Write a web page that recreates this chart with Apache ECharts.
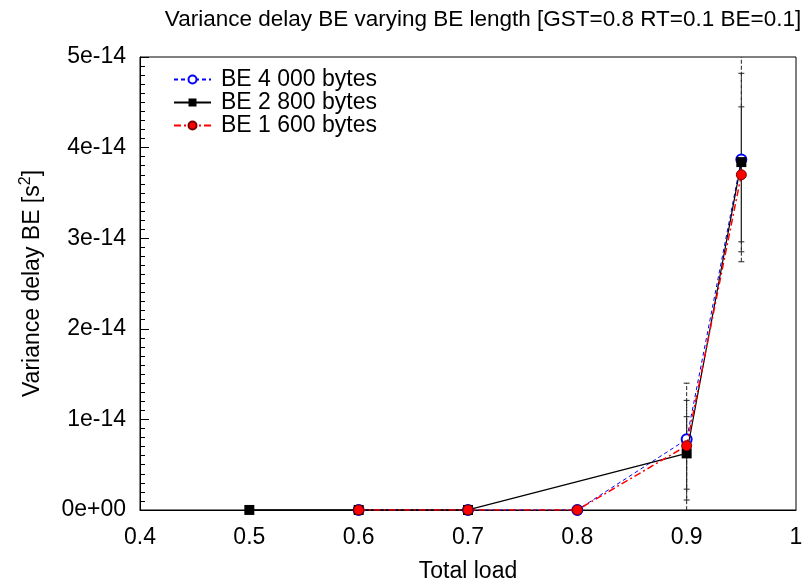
<!DOCTYPE html>
<html>
<head>
<meta charset="utf-8">
<script src="https://cdn.jsdelivr.net/npm/echarts@6/dist/echarts.min.js"></script>
<style>html,body{margin:0;padding:0;background:#fff}#c{width:811px;height:588px}</style>
</head>
<body>
<div id="c"></div>
<script>
// ---- data ----
const titleText = 'Variance delay BE varying BE length [GST=0.8 RT=0.1 BE=0.1]';
const seriesNames = ['BE 4 000 bytes', 'BE 2 800 bytes', 'BE 1 600 bytes'];

const load4000 = [0.6, 0.7, 0.8, 0.9, 0.95];
const var4000  = [0.0005e-14, 0.0005e-14, 0.0005e-14, 0.78e-14, 3.87e-14];
const low4000  = [0, 0, 0, 0.23e-14, 2.85e-14];
const high4000 = [0.04e-14, 0.04e-14, 0.04e-14, 1.21e-14, 4.82e-14];

const load2800 = [0.5, 0.6, 0.7, 0.9, 0.95];
const var2800  = [0.0005e-14, 0.0005e-14, 0.0005e-14, 0.625e-14, 3.84e-14];
const low2800  = [0, 0, 0, -0.2e-14, 2.74e-14];
const high2800 = [0.04e-14, 0.04e-14, 0.04e-14, 1.40e-14, 5.3e-14];

const load1600 = [0.6, 0.7, 0.8, 0.9, 0.95];
const var1600  = [0.0005e-14, 0.0005e-14, 0.0005e-14, 0.71e-14, 3.70e-14];
const low1600  = [0, 0, 0, 0.11e-14, 2.96e-14];
const high1600 = [0.04e-14, 0.04e-14, 0.04e-14, 1.03e-14, 4.45e-14];

const xTicks = [0.4, 0.5, 0.6, 0.7, 0.8, 0.9, 1];
const yTickLabels = ['0e+00', '1e-14', '2e-14', '3e-14', '4e-14', '5e-14'];

// ---- build ----
const FONT = '"Liberation Sans", Arial, sans-serif';
const pairs = (xs, ys) => xs.map((x, i) => [x, ys[i]]);
const errs = (xs, lo, hi) => xs.map((x, i) => [x, lo[i], hi[i]]);

function errorSeries(data) {
  return {
    type: 'custom',
    clip: true,
    silent: true,
    z: 1,
    data: data,
    renderItem: function (params, api) {
      const x = api.value(0);
      const lo = api.coord([x, api.value(1)]);
      const hi = api.coord([x, api.value(2)]);
      const cap = 3;
      const st = { stroke: '#222', lineWidth: 1, lineDash: [4, 2] };
      return {
        type: 'group',
        children: [
          { type: 'line', shape: { x1: lo[0], y1: lo[1], x2: hi[0], y2: hi[1] }, style: st },
          { type: 'line', shape: { x1: lo[0] - cap, y1: lo[1], x2: lo[0] + cap, y2: lo[1] }, style: { stroke: '#222', lineWidth: 1 } },
          { type: 'line', shape: { x1: hi[0] - cap, y1: hi[1], x2: hi[0] + cap, y2: hi[1] }, style: { stroke: '#222', lineWidth: 1 } }
        ]
      };
    }
  };
}

const chart = echarts.init(document.getElementById('c'), null, { renderer: 'canvas' });
chart.setOption({
  animation: false,
  backgroundColor: '#fff',
  textStyle: { fontFamily: FONT },
  title: {
    text: titleText,
    left: 478,
    textAlign: 'center',
    top: 3,
    textStyle: { fontFamily: FONT, fontSize: 22.5, fontWeight: 'normal', color: '#000' }
  },
  legend: {
    orient: 'vertical',
    left: 168,
    top: 63,
    itemWidth: 37,
    itemHeight: 10,
    itemGap: 0,
    data: seriesNames,
    textStyle: { fontFamily: FONT, fontSize: 23, color: '#000', padding: [0, 0, 0, 5] }
  },
  grid: {
    left: 140, right: 15, top: 57, bottom: 75,
    show: true, borderColor: '#000', borderWidth: 1
  },
  xAxis: {
    type: 'value',
    min: 0.4, max: 1, interval: 0.1,
    name: 'Total load',
    nameLocation: 'middle',
    nameGap: 50,
    nameTextStyle: { fontFamily: FONT, fontSize: 23, color: '#000' },
    axisLine: { lineStyle: { color: '#000' } },
    axisTick: { show: false },
    splitLine: { show: false },
    axisLabel: {
      margin: 16, fontFamily: FONT, fontSize: 23, color: '#000',
      formatter: v => {
        const r = Math.round(v * 10) / 10;
        const i = xTicks.findIndex(t => Math.abs(t - r) < 1e-9);
        return i >= 0 ? String(xTicks[i]) : '';
      }
    }
  },
  yAxis: {
    type: 'value',
    min: 0, max: 5e-14, interval: 1e-14,
    name: 'Variance delay BE [s{sup|2}]',
    nameLocation: 'middle',
    nameGap: 93,
    nameRotate: 90,
    nameTextStyle: {
      fontFamily: FONT, fontSize: 23, color: '#000',
      rich: { sup: { fontFamily: FONT, fontSize: 16, color: '#000', verticalAlign: 'bottom', padding: [0, 0, 13, 0] } }
    },
    axisLine: { lineStyle: { color: '#000' } },
    axisTick: { inside: true, length: 9, lineStyle: { color: '#000' } },
    minorTick: { show: true, splitNumber: 10, length: 5, lineStyle: { color: '#000' } },
    splitLine: { show: false },
    axisLabel: {
      margin: 14, fontFamily: FONT, fontSize: 23, color: '#000',
      formatter: v => yTickLabels[Math.round(v / 1e-14)] || ''
    }
  },
  series: [
    errorSeries(errs(load4000, low4000, high4000)),
    errorSeries(errs(load2800, low2800, high2800)),
    errorSeries(errs(load1600, low1600, high1600)),
    {
      name: seriesNames[0], type: 'line', data: pairs(load4000, var4000), z: 3,
      symbol: 'emptyCircle', symbolSize: 10,
      lineStyle: { color: '#0000ff', width: 1, type: [4, 3] },
      itemStyle: { color: '#0000ff', borderColor: '#0000ff', borderWidth: 1 }
    },
    {
      name: seriesNames[1], type: 'line', data: pairs(load2800, var2800), z: 4,
      symbol: 'rect', symbolSize: 10,
      lineStyle: { color: '#000', width: 1.2, type: 'solid' },
      itemStyle: { color: '#000' }
    },
    {
      name: seriesNames[2], type: 'line', data: pairs(load1600, var1600), z: 5,
      symbol: 'circle', symbolSize: 10,
      lineStyle: { color: '#ff0000', width: 1.5, type: [7, 3, 2, 3] },
      itemStyle: { color: '#ff0000', borderColor: '#7a0000', borderWidth: 1 }
    }
  ]
});
</script>
</body>
</html>
